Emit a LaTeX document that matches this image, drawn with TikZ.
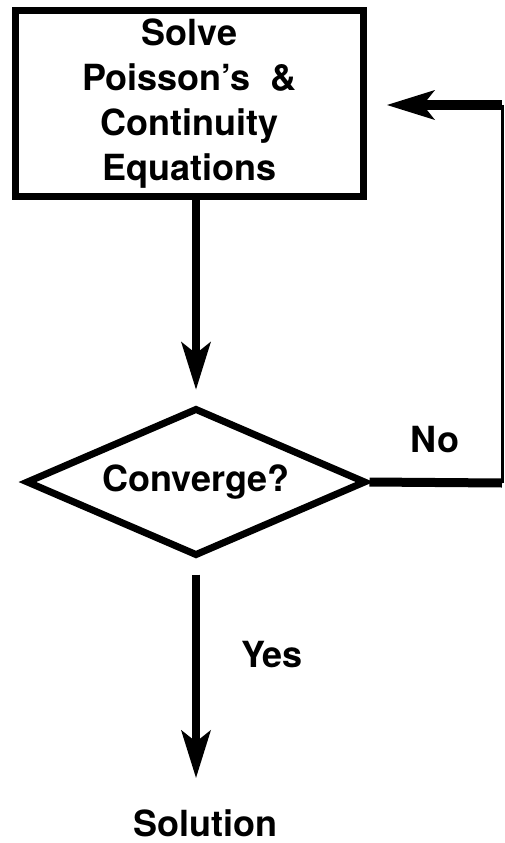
\documentclass[tikz,border=0pt]{standalone}
\usepackage{fontspec}
\setmainfont{TeX Gyre Heros}
\usetikzlibrary{arrows.meta, shapes.geometric}

\begin{document}
\begin{tikzpicture}[
    x=1pt, y=-1pt,
    every node/.style={font=\fontsize{36}{45}\selectfont\bfseries},
    stepbox/.style={draw, line width=7pt, minimum width=348pt, minimum height=186pt, inner sep=0pt, align=center},
    decision/.style={diamond, draw, line width=7pt, minimum width=340pt, minimum height=148pt, inner sep=0pt, aspect=2.3},
    flow/.style={line width=8pt, -{Stealth[length=48pt, width=30pt, inset=12pt, line width=0pt]}},
    wire/.style={line width=9pt}
]
\useasboundingbox (0,0) rectangle (504,843);

% blocks
\node[stepbox] (solve) at (189.5, 103.5) {Solve\\Poisson's\ \ \&\\Continuity\\Equations};
\node[decision] (conv) at (196, 482) {Converge?};
\node (sol) at (205, 823) {Solution};

% labels
\node (no) at (435, 440) {No};
\node (yes) at (272, 655) {Yes};

% loop back corners
\coordinate (cr) at (502, 483);
\coordinate (ct) at (502, 105);

% arrows
\draw[flow, shorten >=15pt] (solve.south -| conv.north) -- (conv.north);
\draw[flow, shorten <=15pt, shorten >=28pt] (conv.south) -- (conv.south |- sol.north);
\draw[wire] (conv.east) -- (cr);
\draw[line width=3pt] (cr) -- (ct);
\draw[flow, line width=10pt, shorten >=20pt] (ct) -- (ct -| solve.east);

\end{tikzpicture}
\end{document}
